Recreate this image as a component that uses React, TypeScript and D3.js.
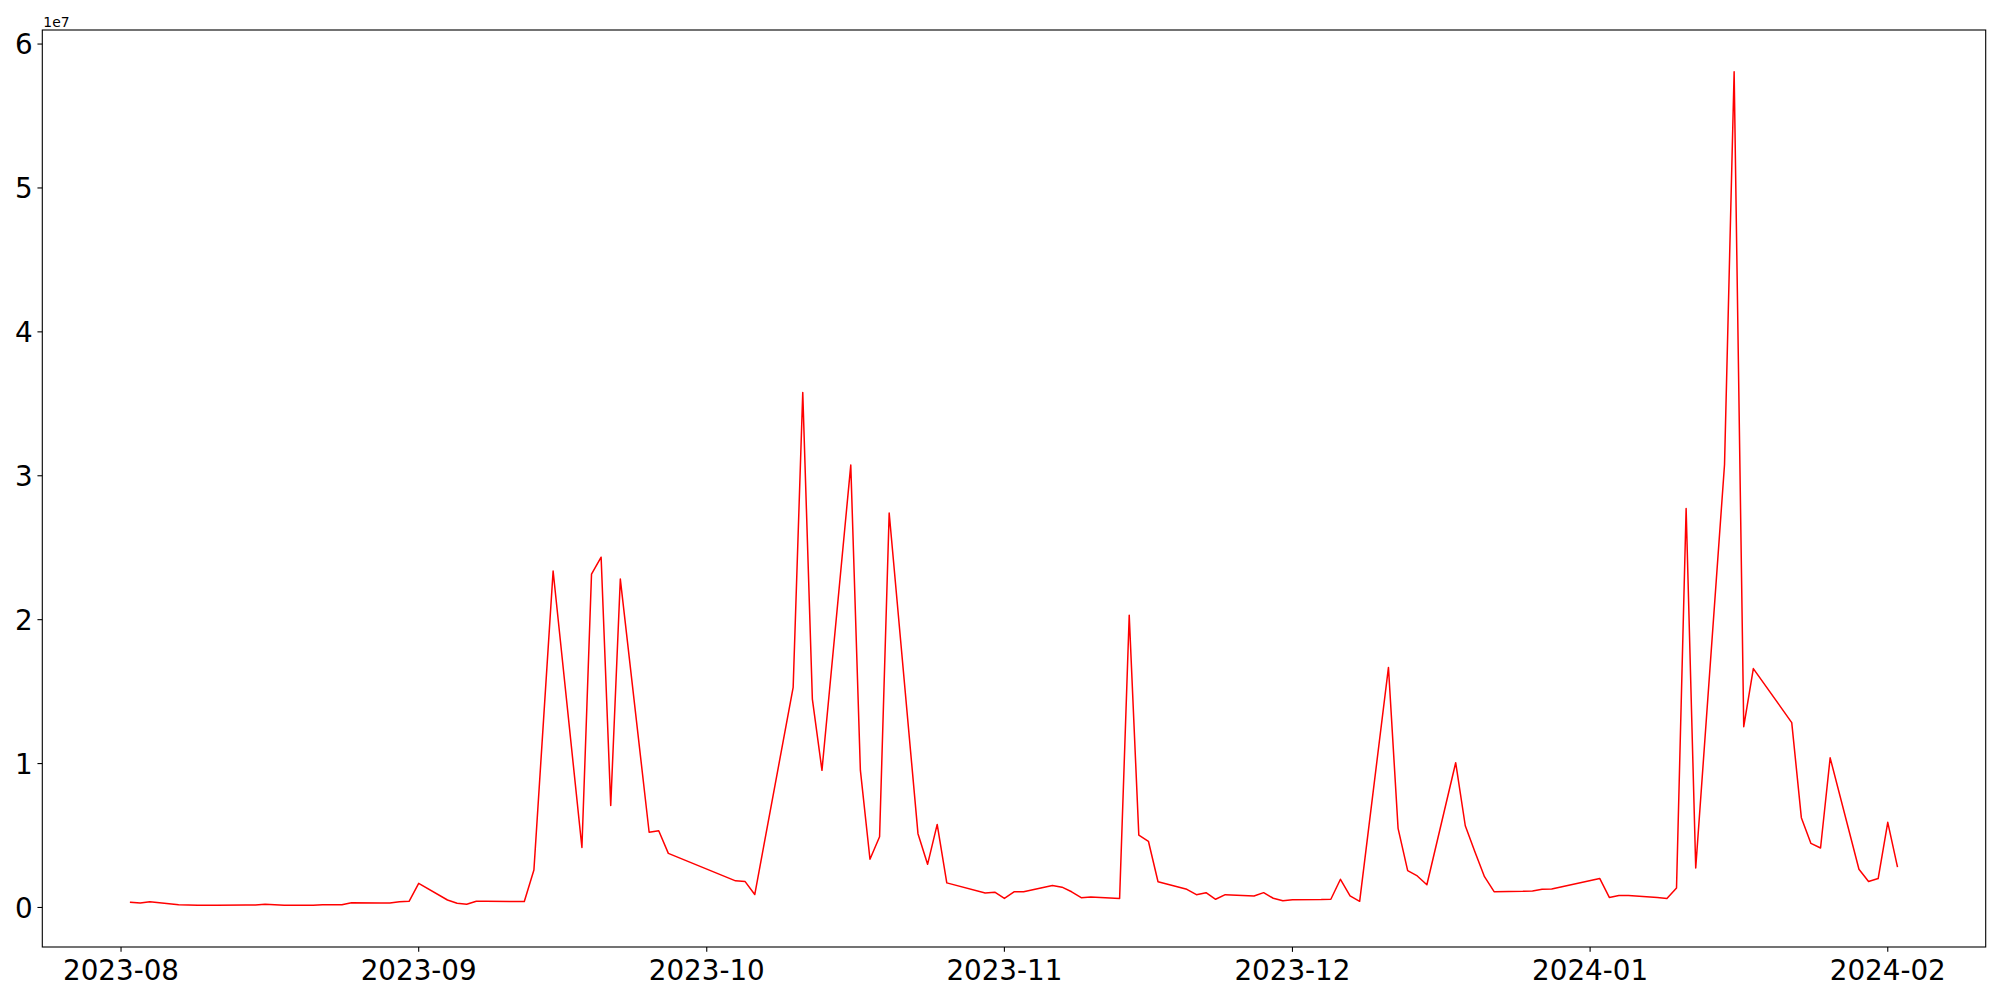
import React from "react";
import * as d3 from "d3";

const dates: string[] = [
  "2023-08-02","2023-08-03","2023-08-04","2023-08-07","2023-08-08","2023-08-09","2023-08-10","2023-08-11",
  "2023-08-14","2023-08-15","2023-08-16","2023-08-17","2023-08-18","2023-08-21","2023-08-22","2023-08-23",
  "2023-08-24","2023-08-25","2023-08-28","2023-08-29","2023-08-30","2023-08-31","2023-09-01","2023-09-04",
  "2023-09-05","2023-09-06","2023-09-07","2023-09-08","2023-09-11","2023-09-12","2023-09-13","2023-09-14",
  "2023-09-15","2023-09-18","2023-09-19","2023-09-20","2023-09-21","2023-09-22","2023-09-25","2023-09-26",
  "2023-09-27","2023-10-04","2023-10-05","2023-10-06","2023-10-10","2023-10-11","2023-10-12","2023-10-13",
  "2023-10-16","2023-10-17","2023-10-18","2023-10-19","2023-10-20","2023-10-23","2023-10-24","2023-10-25",
  "2023-10-26","2023-10-30","2023-10-31","2023-11-01","2023-11-02","2023-11-03","2023-11-06","2023-11-07",
  "2023-11-08","2023-11-09","2023-11-10","2023-11-13","2023-11-14","2023-11-15","2023-11-16","2023-11-17",
  "2023-11-20","2023-11-21","2023-11-22","2023-11-23","2023-11-24","2023-11-27","2023-11-28","2023-11-29",
  "2023-11-30","2023-12-01","2023-12-04","2023-12-05","2023-12-06","2023-12-07","2023-12-08","2023-12-11",
  "2023-12-12","2023-12-13","2023-12-14","2023-12-15","2023-12-18","2023-12-19","2023-12-20","2023-12-21",
  "2023-12-22","2023-12-25","2023-12-26","2023-12-27","2023-12-28","2024-01-02","2024-01-03","2024-01-04",
  "2024-01-05","2024-01-08","2024-01-09","2024-01-10","2024-01-11","2024-01-12","2024-01-15","2024-01-16",
  "2024-01-17","2024-01-18","2024-01-22","2024-01-23","2024-01-24","2024-01-25","2024-01-26","2024-01-29",
  "2024-01-30","2024-01-31","2024-02-01","2024-02-02",
];

const values: number[] = [
  360000, 310000, 400000, 190000, 170000, 160000, 150000, 160000,
  170000, 170000, 220000, 190000, 150000, 150000, 190000, 190000,
  190000, 330000, 310000, 310000, 400000, 430000, 1680000, 520000,
  290000, 220000, 430000, 430000, 410000, 420000, 2600000, 13000000,
  23380000, 4170000, 23170000, 24340000, 7090000, 22820000, 5230000, 5330000,
  3760000, 1850000, 1800000, 900000, 15300000, 35790000, 14480000, 9530000,
  30740000, 9540000, 3350000, 4910000, 27410000, 5130000, 3000000, 5770000,
  1710000, 1010000, 1060000, 630000, 1090000, 1090000, 1530000, 1410000,
  1090000, 680000, 730000, 620000, 20300000, 5020000, 4600000, 1790000,
  1260000, 890000, 1030000, 570000, 890000, 800000, 1030000, 640000,
  470000, 540000, 550000, 570000, 1960000, 810000, 430000, 16680000,
  5500000, 2560000, 2190000, 1580000, 10060000, 5680000, 3880000, 2140000,
  1100000, 1120000, 1150000, 1260000, 1280000, 2020000, 700000, 830000,
  830000, 700000, 620000, 1350000, 27720000, 2740000, 30780000, 58080000,
  12560000, 16600000, 12850000, 6240000, 4450000, 4130000, 10400000, 2660000,
  1810000, 2010000, 5920000, 2860000,
];

const yTickValues: number[] = [0, 1e7, 2e7, 3e7, 4e7, 5e7, 6e7];
const yTickLabels: string[] = ["0", "1", "2", "3", "4", "5", "6"];
const offsetLabel = "1e7";

const W = 2000;
const H = 1000;
const L = 42.3;
const R = 1985.7;
const T = 30;
const B = 947;
const FONT = "DejaVu Sans, sans-serif";
const TICK_FS = 27.78;

export default function App() {
  const parsed = dates.map((d) => new Date(d + "T00:00:00Z"));
  const data = parsed.map((d, i) => ({ d, v: values[i] }));

  const x0 = +parsed[0];
  const x1 = +parsed[parsed.length - 1];
  const xs = x1 - x0;
  const x = d3
    .scaleUtc()
    .domain([new Date(x0 - 0.05 * xs), new Date(x1 + 0.05 * xs)])
    .range([L, R]);

  const vmin = d3.min(values) as number;
  const vmax = d3.max(values) as number;
  const vr = vmax - vmin;
  const y = d3
    .scaleLinear()
    .domain([vmin - 0.05 * vr, vmax + 0.05 * vr])
    .range([B, T]);

  const line = d3
    .line<{ d: Date; v: number }>()
    .x((p) => x(p.d))
    .y((p) => y(p.v));

  const xTicks = d3.utcMonth.range(new Date("2023-08-01T00:00:00Z"), new Date("2024-02-02T00:00:00Z"));
  const fmt = d3.utcFormat("%Y-%m");
  const tickLen = 4.86;

  return (
    <svg
      width={W}
      height={H}
      style={{ position: "absolute", left: 0, top: 0, background: "#fff" }}
      fontFamily={FONT}
    >
      <rect x={0} y={0} width={W} height={H} fill="#fff" />
      <path d={line(data) || ""} fill="none" stroke="#ff0000" strokeWidth={1.5} strokeLinejoin="round" strokeLinecap="square" />
      <rect x={L} y={T} width={R - L} height={B - T} fill="none" stroke="#000" strokeWidth={1.1} />
      {xTicks.map((t, i) => (
        <g key={"xt" + i}>
          <line x1={x(t)} x2={x(t)} y1={B} y2={B + tickLen} stroke="#000" strokeWidth={1.1} />
          <text x={x(t)} y={980} textAnchor="middle" fontSize={TICK_FS} fill="#000">
            {fmt(t)}
          </text>
        </g>
      ))}
      {yTickValues.map((v, i) => (
        <g key={"yt" + i}>
          <line x1={L - tickLen} x2={L} y1={y(v)} y2={y(v)} stroke="#000" strokeWidth={1.1} />
          <text x={L - 2 * tickLen} y={y(v) + 10.1} textAnchor="end" fontSize={TICK_FS} fill="#000">
            {yTickLabels[i]}
          </text>
        </g>
      ))}
      <text x={L + 1} y={26.5} fontSize={13.9} fill="#000">
        {offsetLabel}
      </text>
    </svg>
  );
}
